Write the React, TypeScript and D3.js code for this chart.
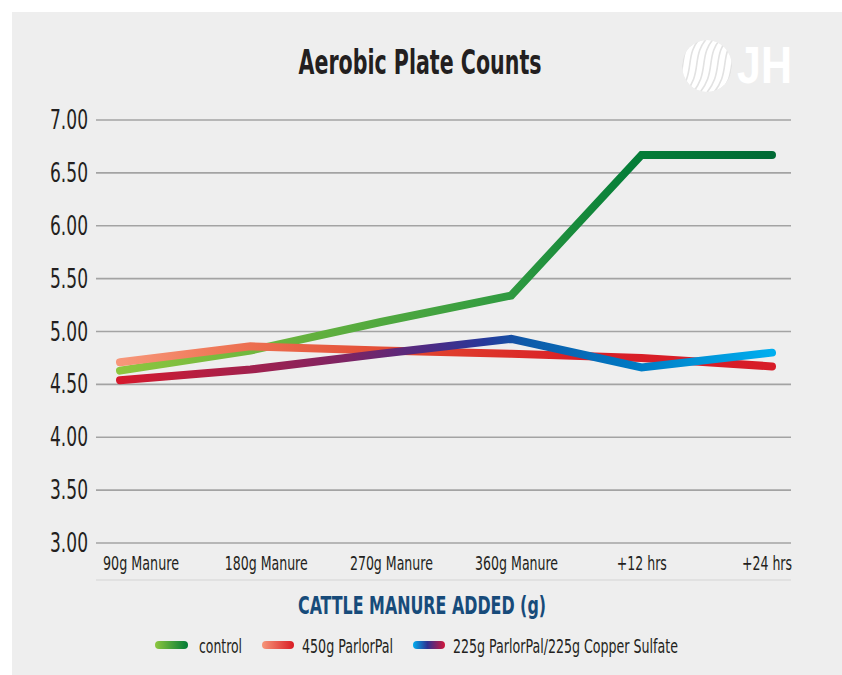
import React from 'react';
import * as d3 from 'd3';

// ---------- data ----------
const categories = ['90g Manure', '180g Manure', '270g Manure', '360g Manure', '+12 hrs', '+24 hrs'];
const controlValues = [4.63, 4.82, 5.09, 5.34, 6.67, 6.67];
const parlorPalValues = [4.71, 4.86, 4.82, 4.79, 4.75, 4.67];
const mixValues = [4.54, 4.64, 4.79, 4.93, 4.66, 4.8];
const yTickValues = [3.0, 3.5, 4.0, 4.5, 5.0, 5.5, 6.0, 6.5, 7.0];
const seriesNames = ['control', '450g ParlorPal', '225g ParlorPal/225g Copper Sulfate'];
const titleText = 'Aerobic Plate Counts';
const xAxisTitle = 'CATTLE MANURE ADDED (g)';

// ---------- layout ----------
const W = 842;
const H = 675;
const plotLeft = 96;
const plotRight = 791;
const plotTop = 120;
const plotBottom = 543;
const lineLeft = 120;
const lineRight = 772;
const labelLeft = 141;
const labelRight = 767;
const FONT = "'Liberation Sans Narrow', 'DejaVu Sans Condensed', 'Roboto Condensed', 'Liberation Sans', Arial, sans-serif";

const yScale = d3.scaleLinear().domain([3, 7]).range([plotBottom, plotTop]);
const xLine = d3.scalePoint<string>().domain(categories).range([lineLeft, lineRight]);
const xLabel = d3.scalePoint<string>().domain(categories).range([labelLeft, labelRight]);

const lineGen = d3
  .line<number>()
  .x((_, i) => xLine(categories[i]) as number)
  .y((d) => yScale(d));

const xLabelWidths: Record<string, number> = {
  '90g Manure': 76,
  '180g Manure': 83,
  '270g Manure': 83,
  '360g Manure': 83,
  '+12 hrs': 50,
  '+24 hrs': 50,
};

type Stop = [number, string];
const controlStops: Stop[] = [
  [0, '#8dc63f'],
  [0.3, '#62b03e'],
  [0.6, '#2f9a41'],
  [0.78, '#057e38'],
  [1, '#006a35'],
];
const parlorStops: Stop[] = [
  [0, '#f7977a'],
  [0.16, '#ee7656'],
  [0.45, '#e1452f'],
  [0.7, '#d91f26'],
  [1, '#d71c28'],
];
const mixStops: Stop[] = [
  [0, '#d5192d'],
  [0.17, '#a92049'],
  [0.35, '#7c2464'],
  [0.48, '#4a2b86'],
  [0.56, '#27399a'],
  [0.62, '#0d5aa9'],
  [0.78, '#0078c2'],
  [0.9, '#0096da'],
  [1, '#00aeef'],
];

const legendControl: Stop[] = [
  [0, '#8dc63f'],
  [1, '#007a36'],
];
const legendParlor: Stop[] = [
  [0, '#f69679'],
  [1, '#d91c24'],
];
const legendMix: Stop[] = [
  [0, '#00aeef'],
  [0.45, '#2e3192'],
  [1, '#d2163a'],
];

function Grad({ id, stops, x1, x2 }: { id: string; stops: Stop[]; x1: number; x2: number }) {
  return (
    <linearGradient id={id} gradientUnits="userSpaceOnUse" x1={x1} y1={0} x2={x2} y2={0}>
      {stops.map(([o, c], i) => (
        <stop key={i} offset={o} stopColor={c} />
      ))}
    </linearGradient>
  );
}

function Logo() {
  const cx = 707;
  const cy = 66;
  const r = 26;
  const stripes = d3.range(-6, 7);
  return (
    <g>
      <defs>
        <clipPath id="sphereClip">
          <ellipse cx={cx} cy={cy} rx={r - 1} ry={r} />
        </clipPath>
      </defs>
      <g clipPath="url(#sphereClip)">
        <ellipse cx={cx} cy={cy} rx={r - 1} ry={r} fill="#ffffff" />
        {stripes.map((s) => {
          const x0 = cx + s * 7;
          return (
            <path
              key={s}
              d={`M${x0 + 16},${cy - r - 4} C${x0 - 4},${cy - 10} ${x0 + 12},${cy + 6} ${x0 - 10},${cy + r + 4}`}
              fill="none"
              stroke="#e2e2e2"
              strokeWidth={1.6}
            />
          );
        })}
      </g>
      <text
        x={737}
        y={83}
        fontFamily="'Liberation Sans', Arial, sans-serif"
        fontWeight="bold"
        fontSize={52}
        fill="#ffffff"
        textLength={55}
        lengthAdjust="spacingAndGlyphs"
      >
        JH
      </text>
    </g>
  );
}

export default function App() {
  const series = [
    { name: seriesNames[0], values: controlValues, grad: 'gControl' },
    { name: seriesNames[1], values: parlorPalValues, grad: 'gParlor' },
    { name: seriesNames[2], values: mixValues, grad: 'gMix' },
  ];

  const legendItems = [
    { name: seriesNames[0], grad: 'lgControl', x1: 159, x2: 184, tx: 199, tw: 43 },
    { name: seriesNames[1], grad: 'lgParlor', x1: 266, x2: 290, tx: 302, tw: 91 },
    { name: seriesNames[2], grad: 'lgMix', x1: 417, x2: 441, tx: 453, tw: 225 },
  ];

  return (
    <svg
      width={W}
      height={H}
      viewBox={`0 0 ${W} ${H}`}
      style={{ position: 'absolute', left: 0, top: 0, background: '#ffffff' }}
    >
      <defs>
        <Grad id="gControl" stops={controlStops} x1={lineLeft} x2={lineRight} />
        <Grad id="gParlor" stops={parlorStops} x1={lineLeft} x2={lineRight} />
        <Grad id="gMix" stops={mixStops} x1={lineLeft} x2={lineRight} />
        <Grad id="lgControl" stops={legendControl} x1={155} x2={188} />
        <Grad id="lgParlor" stops={legendParlor} x1={262} x2={294} />
        <Grad id="lgMix" stops={legendMix} x1={413} x2={445} />
      </defs>

      <rect x={12} y={12} width={W - 12} height={H - 12} fill="#eeeeee" />

      <Logo />

      <text
        x={420}
        y={74}
        textAnchor="middle"
        fontFamily={FONT}
        fontWeight="bold"
        fontSize={33}
        fill="#231f20"
        textLength={243}
        lengthAdjust="spacingAndGlyphs"
      >
        {titleText}
      </text>

      {/* grid + y labels */}
      {yTickValues.map((v) => (
        <g key={v}>
          <line
            x1={plotLeft}
            x2={plotRight}
            y1={yScale(v)}
            y2={yScale(v)}
            stroke="#a3a3a3"
            strokeWidth={1.6}
          />
          <text
            x={88}
            y={yScale(v) + 9}
            textAnchor="end"
            fontFamily={FONT}
            fontSize={26}
            fill="#231f20"
            textLength={38}
            lengthAdjust="spacingAndGlyphs"
          >
            {d3.format('.2f')(v)}
          </text>
        </g>
      ))}

      {/* x labels */}
      {categories.map((c) => (
        <text
          key={c}
          x={xLabel(c)}
          y={569.5}
          textAnchor="middle"
          fontFamily={FONT}
          fontSize={19.5}
          fill="#231f20"
          textLength={xLabelWidths[c]}
          lengthAdjust="spacingAndGlyphs"
        >
          {c}
        </text>
      ))}

      <line x1={plotLeft} x2={plotRight} y1={580} y2={580} stroke="#d4d4d4" strokeWidth={1.2} />

      <text
        x={422}
        y={614}
        textAnchor="middle"
        fontFamily={FONT}
        fontWeight="bold"
        fontSize={25}
        fill="#174b7a"
        textLength={248}
        lengthAdjust="spacingAndGlyphs"
      >
        {xAxisTitle}
      </text>

      {/* series */}
      {series.map((s) => (
        <path
          key={s.name}
          d={lineGen(s.values) || ''}
          fill="none"
          stroke={`url(#${s.grad})`}
          strokeWidth={8}
          strokeLinecap="round"
          strokeLinejoin="miter"
        />
      ))}

      {/* legend */}
      {legendItems.map((l) => (
        <g key={l.name}>
          <line
            x1={l.x1}
            x2={l.x2}
            y1={645}
            y2={645}
            stroke={`url(#${l.grad})`}
            strokeWidth={8}
            strokeLinecap="round"
          />
          <text
            x={l.tx}
            y={652.5}
            fontFamily={FONT}
            fontSize={19.5}
            fill="#231f20"
            textLength={l.tw}
            lengthAdjust="spacingAndGlyphs"
          >
            {l.name}
          </text>
        </g>
      ))}
    </svg>
  );
}
